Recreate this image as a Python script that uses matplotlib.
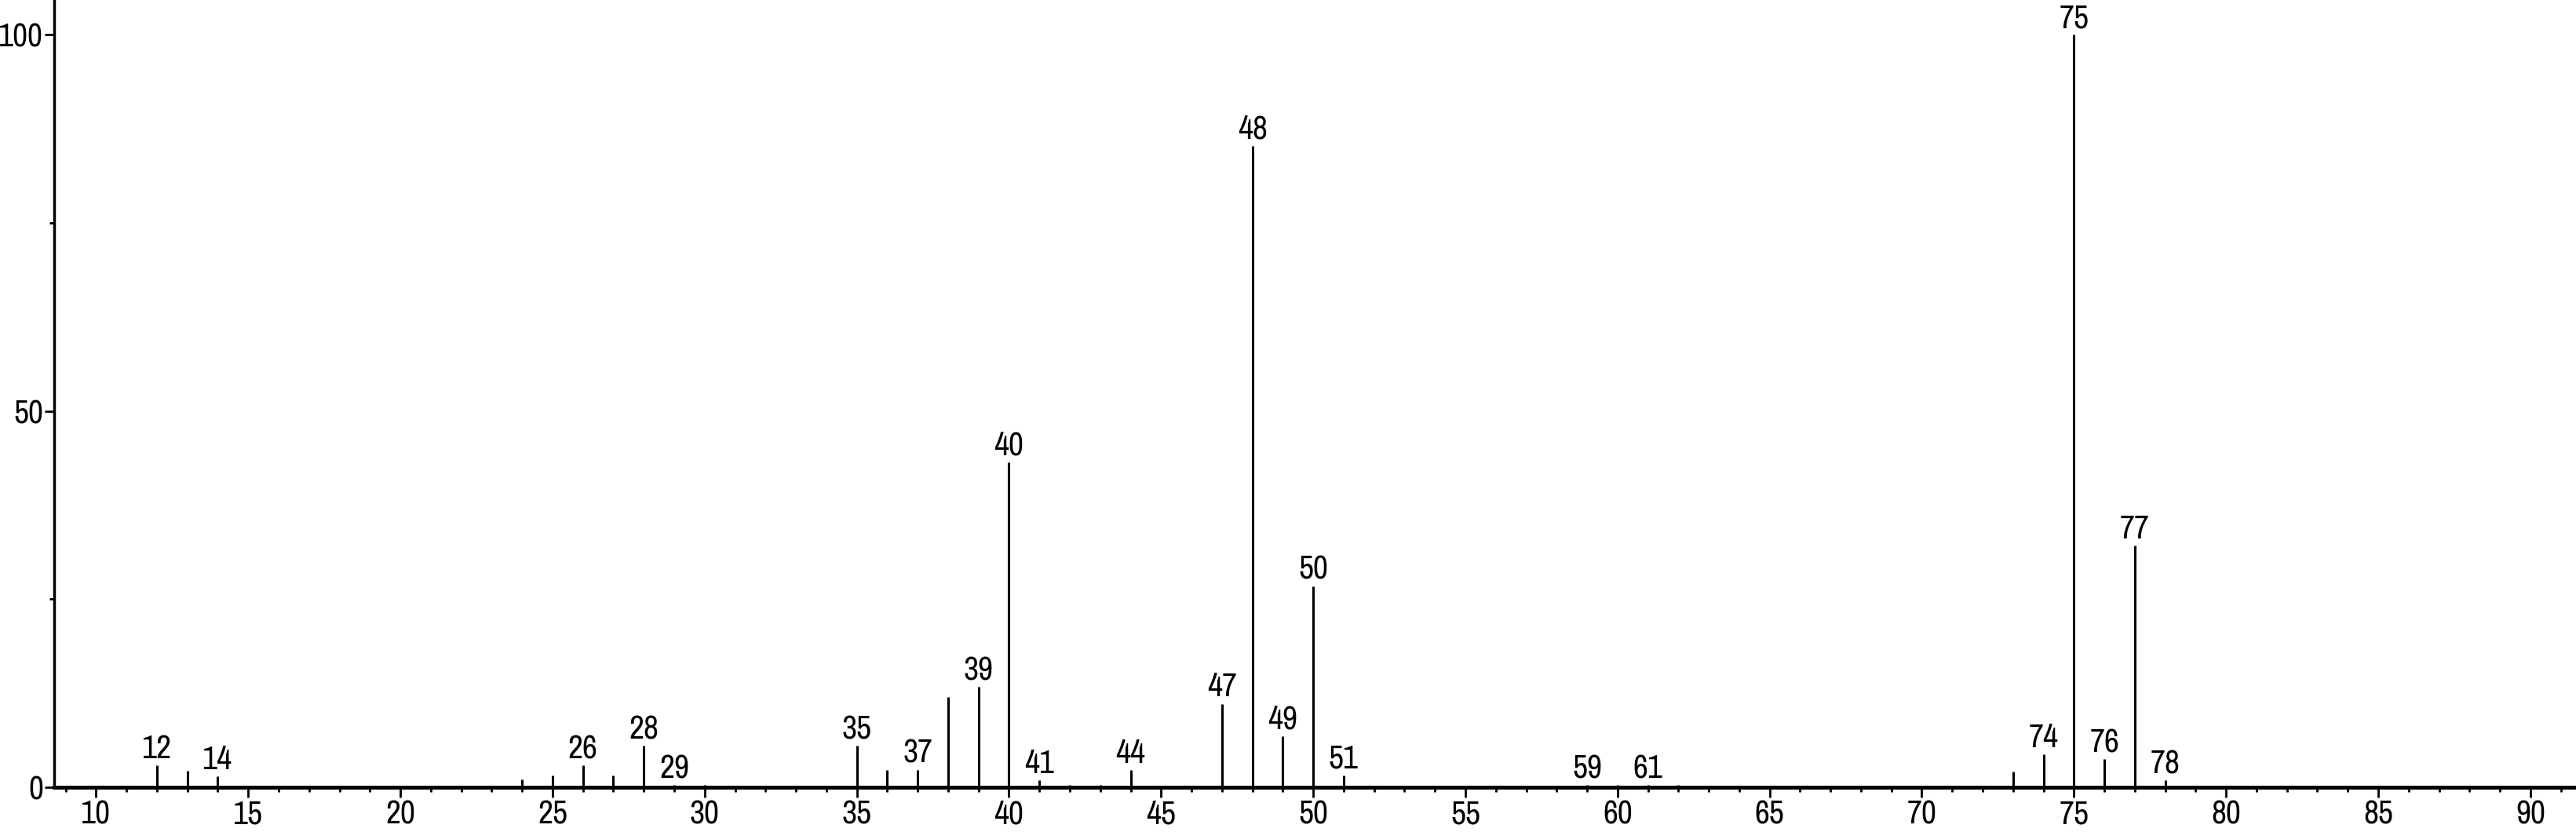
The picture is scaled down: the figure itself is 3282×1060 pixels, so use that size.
import matplotlib
matplotlib.use("Agg")
import matplotlib.pyplot as plt
from matplotlib.ticker import MultipleLocator

# Peak positions (m/z) and relative intensities
mz = [12, 13, 14, 24, 25, 26, 27, 28, 29, 30,
      35, 36, 37, 38, 39, 40, 41, 42, 43, 44,
      47, 48, 49, 50, 51, 59, 60, 61, 62,
      73, 74, 75, 76, 77, 78]
intensity = [2.9, 2.2, 1.5, 1.0, 1.6, 2.9, 1.6, 5.5, 0.3, 0.3,
             5.5, 2.3, 2.3, 12.0, 13.3, 43.2, 0.9, 0.3, 0.3, 2.3,
             11.1, 85.2, 6.8, 26.7, 1.6, 0.3, 0.3, 0.3, 0.3,
             2.1, 4.4, 100.0, 3.7, 32.1, 0.9]
# Peaks that carry a number above them
labelled = [12, 14, 26, 28, 29, 35, 37, 39, 40, 41, 44, 47, 48, 49, 50, 51,
            59, 61, 74, 75, 76, 77, 78]

# narrow face if there is one, otherwise plain sans
plt.rcParams['font.family'] = ['Archivo Narrow', 'Liberation Sans Narrow', 'Liberation Sans', 'DejaVu Sans']

fig = plt.figure(figsize=(32.82, 10.60), dpi=100)
ax = fig.add_axes([0.021, 0.0538, 0.979, 0.9462])

ax.vlines(mz, 0, intensity, colors='black', linewidth=2.2)

for x, y in zip(mz, intensity):
    if x in labelled:
        ax.annotate(str(x), (x, y), xytext=(0, 1.5), textcoords='offset points',
                    ha='center', va='bottom', fontsize=30)

ax.set_xlim(8.62, 91.5)
ax.set_ylim(0, 104.6)

ax.xaxis.set_major_locator(MultipleLocator(5))
ax.xaxis.set_minor_locator(MultipleLocator(1))
ax.yaxis.set_major_locator(MultipleLocator(50))
ax.yaxis.set_minor_locator(MultipleLocator(25))

ax.spines['top'].set_visible(False)
ax.spines['right'].set_visible(False)
ax.spines['bottom'].set_linewidth(3.5)
ax.spines['left'].set_linewidth(2.5)

ax.tick_params(axis='x', which='major', length=9, width=2, labelsize=30, pad=2)
ax.tick_params(axis='x', which='minor', length=4.5, width=2)
ax.tick_params(axis='y', which='major', length=9, width=2, labelsize=30, pad=1)
ax.tick_params(axis='y', which='minor', length=4.5, width=2)

fig.savefig("out.png", dpi=100)
